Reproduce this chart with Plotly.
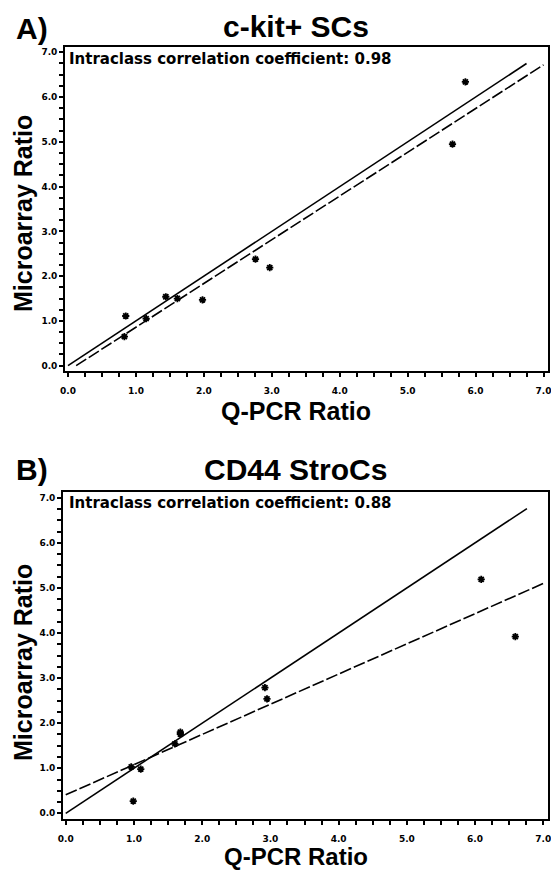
import plotly.graph_objects as go

# ---- data ----
A_x = [0.85, 0.83, 1.15, 1.44, 1.61, 1.98, 2.76, 2.97, 5.66, 5.85]
A_y = [1.11, 0.65, 1.05, 1.54, 1.50, 1.47, 2.38, 2.19, 4.95, 6.34]
A_solid_x = [0.0, 6.75]
A_solid_y = [0.0, 6.75]
A_dash_x = [0.12, 7.0]
A_dash_y = [0.0, 6.72]

B_x = [0.96, 0.99, 1.10, 1.60, 1.68, 1.68, 2.92, 2.95, 6.09, 6.59]
B_y = [1.03, 0.27, 0.98, 1.54, 1.80, 1.76, 2.79, 2.54, 5.19, 3.92]
B_solid_x = [0.0, 6.76]
B_solid_y = [0.0, 6.76]
B_dash_x = [0.0, 7.0]
B_dash_y = [0.41, 5.10]

tick_vals = [i * 0.25 for i in range(29)]
tick_text = [f"{v:.1f}" if abs(v - round(v)) < 1e-9 else "" for v in tick_vals]

W, H = 551, 871
def px(x): return x / W
def py(y): return 1 - y / H

fig = go.Figure()

def add_panel(xs, ys, sx, sy, dx, dy, xa, ya):
    fig.add_trace(go.Scatter(x=sx, y=sy, mode="lines", xaxis=xa, yaxis=ya,
                             line=dict(color="black", width=1.6), showlegend=False))
    fig.add_trace(go.Scatter(x=dx, y=dy, mode="lines", xaxis=xa, yaxis=ya,
                             line=dict(color="black", width=1.6, dash="12px,3px"), showlegend=False))
    fig.add_trace(go.Scatter(x=xs, y=ys, mode="markers", xaxis=xa, yaxis=ya,
                             marker=dict(symbol="asterisk-open", size=6, color="black",
                                         line=dict(color="black", width=1.8)),
                             showlegend=False))

add_panel(A_x, A_y, A_solid_x, A_solid_y, A_dash_x, A_dash_y, "x", "y")
add_panel(B_x, B_y, B_solid_x, B_solid_y, B_dash_x, B_dash_y, "x2", "y2")

tickfont = dict(family="DejaVu Sans", size=9, color="black", weight="bold")
axis_common = dict(
    showgrid=False, zeroline=False, showline=True, linecolor="black", linewidth=1.6,
    mirror=True, ticks="outside", ticklen=4, tickwidth=1.8, tickcolor="black",
    tickmode="array", tickvals=tick_vals, ticktext=tick_text, tickfont=tickfont,
    automargin=False, ticklabeloverflow="allow",
)

fig.update_layout(
    template="none",
    width=W, height=H,
    margin=dict(l=0, r=0, t=0, b=0, autoexpand=False),
    paper_bgcolor="white", plot_bgcolor="white",
    xaxis=dict(domain=[px(65), px(548)], range=[-0.044, 7.066], anchor="y",
               ticklabelstandoff=7, **axis_common),
    yaxis=dict(domain=[py(370.7), py(46.7)], range=[-0.112, 7.125], anchor="x",
               **axis_common),
    xaxis2=dict(domain=[px(63), px(548)], range=[-0.04, 7.069], anchor="y2",
                ticklabelstandoff=6, **axis_common),
    yaxis2=dict(domain=[py(819), py(491.5)], range=[-0.126, 7.14], anchor="x2",
                **axis_common),
)

big = dict(family="Liberation Sans, Arial", size=30, color="black", weight="bold")
axt = dict(family="Liberation Sans, Arial", size=25, color="black", weight="bold")
axt_b = dict(family="Liberation Sans, Arial", size=24, color="black", weight="bold")
icc = dict(family="DejaVu Sans", size=15, color="black", weight="bold")

ann = [
    dict(text="A)", x=px(14), y=py(28), xanchor="left", yanchor="middle", font=big),
    dict(text="c-kit+ SCs", x=px(296), y=py(27), xanchor="center", yanchor="middle", font=big),
    dict(text="Intraclass correlation coefficient: 0.98", x=px(67), y=py(59.5),
         xanchor="left", yanchor="middle", font=icc),
    dict(text="Q-PCR Ratio", x=px(296), y=py(411), xanchor="center", yanchor="middle", font=axt),
    dict(text="Microarray Ratio", x=px(23), y=py(214), xanchor="center", yanchor="middle",
         textangle=-90, font=axt),
    dict(text="B)", x=px(14), y=py(470), xanchor="left", yanchor="middle", font=big),
    dict(text="CD44 StroCs", x=px(295), y=py(469.5), xanchor="center", yanchor="middle", font=big),
    dict(text="Intraclass correlation coefficient: 0.88", x=px(67), y=py(503),
         xanchor="left", yanchor="middle", font=icc),
    dict(text="Q-PCR Ratio", x=px(296), y=py(856.5), xanchor="center", yanchor="middle", font=axt_b),
    dict(text="Microarray Ratio", x=px(23), y=py(663), xanchor="center", yanchor="middle",
         textangle=-90, font=axt),
]
for a in ann:
    a.update(xref="paper", yref="paper", showarrow=False)
fig.update_layout(annotations=ann)

fig.write_html(
    "out.html",
    config={"displayModeBar": False},
    post_script="document.body.style.margin='0';document.body.style.padding='0';"
                "document.documentElement.style.overflow='hidden';",
)
